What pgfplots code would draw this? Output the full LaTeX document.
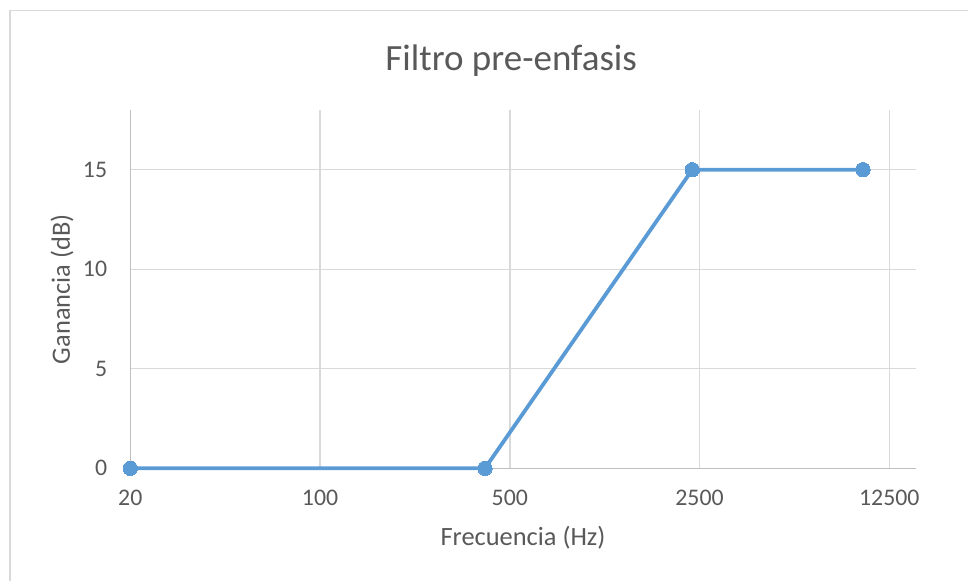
\documentclass[border=0pt]{standalone}
\usepackage{pgfplots}
\pgfplotsset{compat=1.18}
\usepackage{fontspec}
\setmainfont{Carlito}
\definecolor{txt}{HTML}{595959}
\definecolor{gridc}{HTML}{D9D9D9}
\definecolor{axc}{HTML}{BFBFBF}
\definecolor{ser}{HTML}{5B9BD5}
\begin{document}
\begin{tikzpicture}
\useasboundingbox (-65.15pt,-55.85pt) rectangle (418.85pt,234.15pt);
\draw[gridc, line width=0.6pt] (-60.15pt,-70pt) -- (-60.15pt,228.9pt) -- (430pt,228.9pt);
\begin{axis}[
  at={(0pt,0pt)}, anchor=south west,
  scale only axis, width=392.7pt, height=179.15pt,
  xmode=log, log basis x=5,
  xmin=20, xmax=15640, ymin=0, ymax=18,
  xtick={20,100,500,2500,12500},
  xticklabels={20,100,500,2500,12500},
  ytick={0,5,10,15},
  minor xtick={}, 
  grid=major,
  major grid style={gridc, line width=0.7pt},
  axis lines*=left,
  axis line style={axc, line width=0.7pt, -},
  major tick length=0pt,
  clip=false,
  /pgf/number format/assume math mode=true,
  tick label style={font=\fontsize{11.9}{13}\selectfont, text=txt},
  xticklabel style={anchor=center, inner sep=0pt, yshift=-14.85pt},
  yticklabel style={anchor=east, inner sep=0pt, xshift=-11.4pt},
  title={Filtro pre-enfasis},
  title style={at={(axis description cs:0.485,1.105)}, anchor=center, font=\fontsize{18.5}{22}\selectfont, text=txt},
  xlabel={Frecuencia (Hz)},
  xlabel style={at={(axis description cs:0.5,-0.1945)}, anchor=center, font=\fontsize{13.2}{15}\selectfont, text=txt},
  ylabel={Ganancia (dB)},
  ylabel style={at={(axis description cs:-0.087,0.5)}, anchor=center, rotate=0, font=\fontsize{13.2}{15}\selectfont, text=txt},
]
\addplot[ser, line width=1.9pt, mark=*, mark size=3.6pt, mark options={fill=ser, draw=ser, line width=0pt}]
  coordinates {(20,0) (405,0) (2350,15) (10000,15)};
\end{axis}
\end{tikzpicture}
\end{document}
